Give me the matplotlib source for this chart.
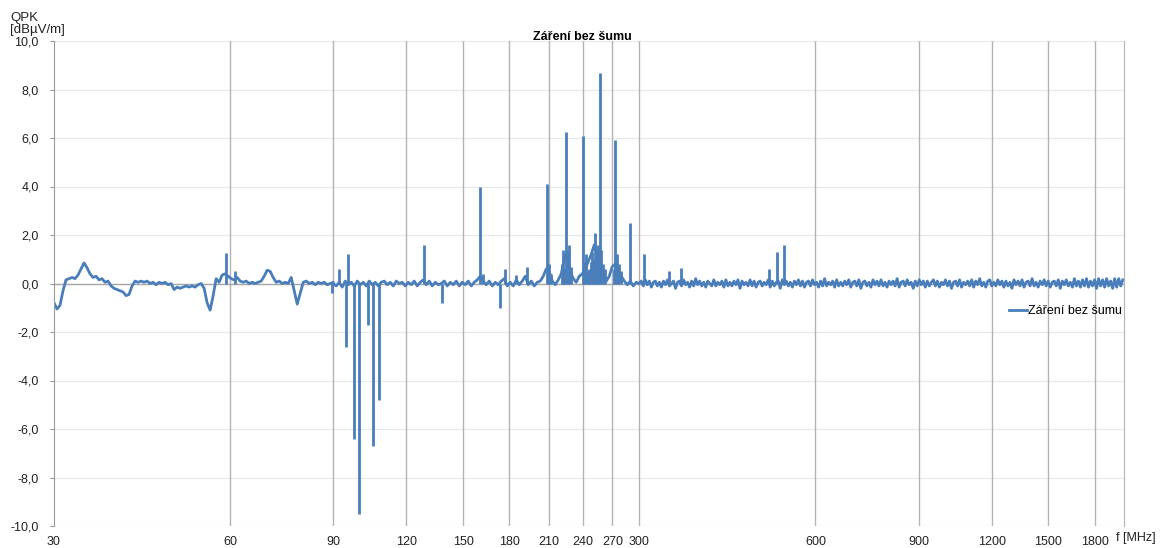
import numpy as np
import matplotlib.pyplot as plt
from matplotlib.ticker import NullLocator

plt.rcParams['font.family'] = ['Liberation Sans', 'DejaVu Sans']

level_30_90 = [
    -0.8, -1.05, -0.9, -0.3, 0.15, 0.2, 0.25, 0.2, 0.35, 0.6,
    0.85, 0.65, 0.4, 0.25, 0.3, 0.15, 0.2, 0.05, 0.1, -0.1,
    -0.2, -0.25, -0.3, -0.35, -0.5, -0.45, -0.1, 0.1, 0.05, 0.1,
    0.05, 0.1, 0.0, 0.05, -0.05, 0.05, 0.0, 0.05, -0.05, 0.0,
    -0.25, -0.15, -0.2, -0.15, -0.1, -0.15, -0.1, -0.15, -0.05, 0.0,
    -0.2, -0.8, -1.1, -0.5, 0.2, 0.05, 0.35, 0.4, 0.3, 0.2,
    0.15, 0.25, 0.1, 0.05, 0.1, 0.0, 0.05, 0.0, 0.05, 0.1,
    0.3, 0.55, 0.5, 0.25, 0.05, 0.1, 0.0, 0.05, 0.0, 0.25,
    -0.3, -0.85, -0.4, 0.05, 0.1, 0.0, 0.05, -0.05, 0.05, 0.0,
    0.05, -0.05, 0.0, 0.05,
]

# sweep 90-300 MHz
level_90_300 = [
    0.0, -0.1, 0.05, -0.15, 0.1, -0.05, 0.05, -0.1, 0.1, -0.05,
    0.05, -0.1, 0.1, -0.05, 0.05, -0.1, 0.05, 0.1, -0.05, 0.05,
    -0.1, 0.1, 0.0, 0.05, -0.1, 0.05, -0.05, 0.1, -0.1, 0.05,
    0.15, -0.05, 0.1, -0.1, 0.05, -0.05, 0.0, 0.1, -0.1, 0.05,
    -0.05, 0.1, -0.1, 0.05, -0.05, 0.1, -0.1, 0.05, 0.15, 0.3,
    0.1, -0.05, 0.1, -0.1, 0.05, -0.05, 0.1, 0.2, -0.1, 0.05,
    -0.1, 0.15, -0.05, 0.1, 0.3, -0.05, 0.1, -0.1, 0.05, 0.1,
    0.3, 0.6, 0.5, 0.1, -0.05, 0.15, 0.4, 1.0, 1.3, 0.5,
    0.2, 0.05, 0.3, 0.4, 0.6, 0.9, 1.2, 1.6, 1.3, 0.8,
    0.4, 0.1, 0.3, 0.7, 0.8, 0.5, 0.3, 0.1, -0.05, 0.1,
    -0.1, 0.05, 0.0,
]

# sweep 300-2000 MHz
level_300_2000 = [
    0.0, 0.1, -0.1, 0.15, -0.05, 0.1, -0.15, 0.05, 0.1, -0.1, 0.05, -0.15, 0.1, -0.05, 0.15, -0.1, 0.0, 0.1, -0.2, 0.05,
    0.1, -0.1, 0.15, -0.05, 0.05, -0.15, 0.1, -0.1, 0.2, -0.05, 0.1, -0.1, 0.05, -0.15, 0.1, 0.0, -0.1, 0.15, -0.1, 0.05,
    -0.05, 0.1, -0.15, 0.15, -0.1, 0.05, -0.1, 0.1, -0.05, 0.15, -0.2, 0.1, -0.05, 0.05, -0.1, 0.15, -0.1, 0.1, -0.15, 0.05,
    0.1, -0.1, 0.05, -0.05, 0.15, -0.15, 0.1, -0.1, 0.05, 0.1, -0.2, 0.15, -0.05, 0.1, -0.1, 0.05, -0.15, 0.1, -0.05, 0.15,
    -0.1, 0.1, -0.15, 0.05, 0.1, -0.1, 0.15, -0.05, 0.05, -0.15, 0.1, -0.1, 0.2, -0.1, 0.05, -0.05, 0.1, -0.15, 0.15, -0.1,
    0.05, -0.1, 0.1, -0.05, 0.15, -0.15, 0.05, 0.1, -0.1, 0.15, -0.2, 0.05, 0.1, -0.1, 0.05, -0.15, 0.15, -0.05, 0.1, -0.1,
    0.15, -0.1, 0.05, -0.15, 0.1, -0.05, 0.1, -0.1, 0.2, -0.15, 0.05, 0.1, -0.1, 0.15, -0.05, 0.05, -0.2, 0.1, -0.1, 0.15,
    -0.05, 0.1, -0.15, 0.1, -0.1, 0.05, 0.15, -0.1, 0.1, -0.15, 0.05, -0.05, 0.15, -0.1, 0.1, -0.2, 0.05, 0.1, -0.1, 0.15,
    -0.15, 0.05, -0.05, 0.1, -0.1, 0.15, -0.15, 0.1, -0.05, 0.2, -0.1, 0.05, -0.15, 0.1, 0.15, -0.1, 0.05, -0.1, 0.15, -0.05,
    0.1, -0.15, 0.1, -0.1, 0.05, -0.2, 0.15, -0.05, 0.1, -0.1, 0.15, -0.15, 0.05, 0.1, -0.1, 0.2, -0.1, 0.05, -0.15, 0.1,
    -0.05, 0.15, -0.1, 0.1, -0.15, 0.05, 0.1, -0.1, 0.15, -0.2, 0.1, -0.05, 0.15, -0.1, 0.05, -0.15, 0.2, -0.1, 0.1, -0.15,
    0.15, -0.1, 0.2, -0.15, 0.1, -0.1, 0.15, -0.2, 0.2, -0.1, 0.15, -0.15, 0.2, -0.1, 0.1, -0.2, 0.2, -0.15, 0.2, -0.1,
    0.15,
]

# narrow peaks / dips (MHz, dBuV/m)
spike_freq = [59.0, 61.2, 89.6, 92.1, 94.5, 95.3, 97.7, 99.7, 103.2, 105.3,
              107.8, 128.7, 138.0, 160.4, 162.4, 173.6, 177.0, 184.9, 193.0, 208.8,
              210.5, 212.0, 221.0, 222.4, 223.5, 225.1, 226.5, 227.7, 229.0, 240.7,
              242.0, 243.6, 245.0, 246.0, 248.0, 249.4, 250.8, 252.3, 253.8, 255.3,
              256.3, 257.4, 258.5, 260.0, 262.0, 271.5, 273.0, 275.0, 277.0, 279.0,
              289.6, 306.0, 337.5, 354.0, 500.0, 516.0, 531.0]
spike_level = [1.25, 0.5, -0.4, 0.6, -2.6, 1.2, -6.4, -9.5, -1.7, -6.7,
               -4.8, 1.6, -0.8, 4.0, 0.4, -1.0, 0.6, 0.35, 0.7, 4.1,
               0.8, 0.4, 0.8, 1.4, 0.6, 6.25, 1.1, 1.6, 0.7, 6.1,
               0.9, 1.2, 0.5, 0.6, 0.9, 1.3, 1.0, 2.1, 1.4, 1.6,
               1.2, 8.7, 1.4, 0.8, 0.6, 0.6, 5.9, 1.2, 0.8, 0.5,
               2.5, 1.2, 0.5, 0.65, 0.6, 1.3, 1.6]

y_ticks = [-10, -8, -6, -4, -2, 0, 2, 4, 6, 8, 10]
x_ticks = [30, 60, 90, 120, 150, 180, 210, 240, 270, 300, 600, 900, 1200, 1500, 1800]

freq = np.concatenate([
    np.geomspace(30, 90, len(level_30_90)),
    np.geomspace(90, 300, len(level_90_300)),
    np.geomspace(300, 2010, len(level_300_2000)),
])
level = np.concatenate([level_30_90, level_90_300, level_300_2000])

blue = "#4a7ebb"

fig = plt.figure(figsize=(11.71, 5.48), dpi=100)
ax = fig.add_axes([54 / 1171, 1 - 526 / 548, 1070 / 1171, 485 / 548])

ax.set_xscale("log")
ax.set_xlim(30, 2020)
ax.set_ylim(-10, 10)

for yv in y_ticks:
    ax.axhline(yv, color="#e8e8e8", linewidth=0.8, zorder=0)
for xv in x_ticks[1:]:
    ax.axvline(xv, color="#b3b3b3", linewidth=1.0, zorder=0)
ax.axhline(0, color="#a6a6a6", linewidth=1.0, zorder=1)

line, = ax.plot(freq, level, color=blue, linewidth=2.0, zorder=2,
                label="Záření bez šumu")
ax.vlines(spike_freq, 0, spike_level, color=blue, linewidth=2.0, zorder=2)

ax.set_xticks(x_ticks)
ax.set_xticklabels([str(v) for v in x_ticks])
ax.xaxis.set_minor_locator(NullLocator())
ax.set_yticks(y_ticks)
ax.set_yticklabels([f"{v:.1f}".replace(".", ",") for v in y_ticks])

ax.tick_params(axis="x", length=0, pad=7, labelsize=9, colors="#222222")
ax.tick_params(axis="y", length=3, pad=8, labelsize=9, colors="#222222",
               color="#999999")

for side in ["top", "bottom"]:
    ax.spines[side].set_visible(False)
ax.spines["left"].set_color("#999999")
ax.spines["right"].set_color("#b3b3b3")

fig.text(582 / 1171, 1 - 37 / 548, "Záření bez šumu", ha="center", va="center",
         fontsize=9, fontweight="bold")
fig.text(10 / 1171, 1 - 12 / 548, "QPK\n[dBµV/m]", ha="left", va="top",
         fontsize=9.5, linespacing=0.95, color="#222222")
fig.text(1116 / 1171, 1 - 538 / 548, "f [MHz]", ha="left", va="center",
         fontsize=9, color="#222222")

ax.legend(handles=[line], loc="center left",
          bbox_to_anchor=(1009 / 1171, 1 - 311 / 548), bbox_transform=fig.transFigure,
          frameon=False, fontsize=9, handlelength=1.4, handletextpad=0.1,
          borderpad=0, borderaxespad=0)

fig.savefig("out.png", dpi=100, facecolor="white")
